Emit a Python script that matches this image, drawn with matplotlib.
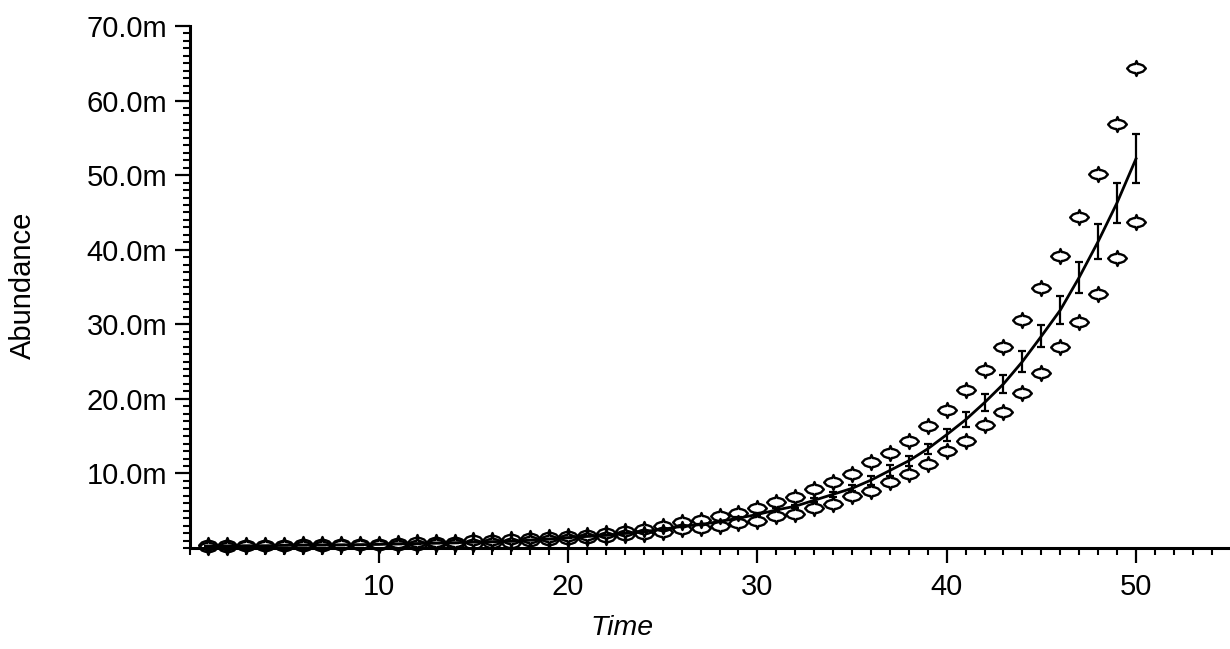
import matplotlib
matplotlib.use('Agg')
import matplotlib.pyplot as plt
from matplotlib.path import Path
from matplotlib.ticker import MultipleLocator, FixedLocator, FuncFormatter

# ---- data (values in "m" units) ----
time = list(range(1, 51))
upper = [0.35, 0.35, 0.45, 0.35, 0.45, 0.50, 0.50, 0.50, 0.55, 0.60,
         0.70, 0.75, 0.80, 0.85, 1.05, 1.10, 1.15, 1.30, 1.45, 1.65,
         1.80, 2.00, 2.30, 2.60, 3.00, 3.45, 3.70, 4.30, 4.70, 5.30,
         6.20, 6.90, 7.90, 8.90, 9.90, 11.5, 12.8, 14.4, 16.4, 18.5,
         21.2, 23.9, 27.0, 30.6, 34.8, 39.2, 44.4, 50.2, 56.9, 64.4]
lower = [0.20, 0.20, 0.25, 0.25, 0.30, 0.30, 0.30, 0.35, 0.35, 0.35,
         0.40, 0.45, 0.50, 0.55, 0.60, 0.65, 0.70, 0.90, 1.05, 1.20,
         1.35, 1.45, 1.70, 1.90, 2.20, 2.50, 2.70, 3.00, 3.35, 3.65,
         4.30, 4.55, 5.30, 5.90, 7.00, 7.60, 8.90, 9.90, 11.2, 13.0,
         14.4, 16.5, 18.2, 20.8, 23.5, 26.9, 30.3, 34.1, 38.9, 43.7]
mean = [0.25, 0.27, 0.30, 0.30, 0.35, 0.38, 0.40, 0.42, 0.45, 0.48,
        0.55, 0.60, 0.65, 0.70, 0.80, 0.85, 0.90, 1.05, 1.20, 1.40,
        1.55, 1.70, 1.95, 2.20, 2.50, 2.90, 3.15, 3.55, 4.00, 4.50,
        5.10, 5.60, 6.40, 7.20, 8.00, 9.10, 10.4, 11.7, 13.3, 15.2,
        17.2, 19.5, 22.0, 25.0, 28.4, 31.9, 36.3, 41.1, 46.3, 52.2]
err = [0.0, 0.0, 0.0, 0.0, 0.0, 0.0, 0.0, 0.0, 0.0, 0.0,
       0.0, 0.0, 0.0, 0.0, 0.0, 0.0, 0.0, 0.0, 0.0, 0.0,
       0.0, 0.0, 0.0, 0.0, 0.1, 0.1, 0.1, 0.1, 0.15, 0.15,
       0.2, 0.2, 0.25, 0.3, 0.4, 0.6, 0.7, 0.7, 0.7, 0.8,
       1.0, 1.1, 1.2, 1.4, 1.5, 1.9, 2.1, 2.4, 2.7, 3.3]

y_ticks = [10, 20, 30, 40, 50, 60, 70]
x_ticks = [10, 20, 30, 40, 50]

plt.rcParams['font.family'] = ['Liberation Sans', 'DejaVu Sans']

W, H = 1230, 649
fig = plt.figure(figsize=(W / 100, H / 100), dpi=100)
px0, px1, py0, py1 = 189.5, 1230, 548, 26
ax = fig.add_axes([px0 / W, (H - py0) / H, (px1 - px0) / W, (py0 - py1) / H])
ax.set_xlim(0, (px1 - px0) / 18.93)
ax.set_ylim(0, 70)

# custom open 4-point marker
verts = [(-1, 0), (-0.7, 0.32), (-0.35, 0.45), (-0.13, 0.48), (0, 0.80),
         (0.13, 0.48), (0.35, 0.45), (0.7, 0.32), (1, 0),
         (0.7, -0.32), (0.35, -0.45), (0.13, -0.48), (0, -0.80),
         (-0.13, -0.48), (-0.35, -0.45), (-0.7, -0.32), (-1, 0)]
codes = [Path.MOVETO] + [Path.LINETO] * (len(verts) - 2) + [Path.CLOSEPOLY]
mk = Path(verts, codes)

ax.errorbar(time, mean, yerr=err, color='black', lw=2.0, elinewidth=1.6,
            capsize=3, capthick=1.6, zorder=3, clip_on=False)
for series in (upper, lower):
    ax.plot(time, series, linestyle='none', marker=mk, markersize=13.5,
            markerfacecolor='none', markeredgecolor='black',
            markeredgewidth=1.7, zorder=4, clip_on=False)

for s in ('top', 'right'):
    ax.spines[s].set_visible(False)
for s in ('left', 'bottom'):
    ax.spines[s].set_linewidth(2.2)

ax.xaxis.set_major_locator(FixedLocator(x_ticks))
ax.xaxis.set_minor_locator(MultipleLocator(1))
ax.yaxis.set_major_locator(FixedLocator(y_ticks))
ax.yaxis.set_minor_locator(MultipleLocator(1))
ax.yaxis.set_major_formatter(FuncFormatter(lambda v, p: f"{v:.1f}m"))
ax.xaxis.set_major_formatter(FuncFormatter(lambda v, p: f"{v:.0f}"))

ax.tick_params(axis='both', which='major', length=11, width=1.6,
               direction='out', labelsize=21)
ax.tick_params(axis='both', which='minor', length=5, width=1.5,
               direction='out')
ax.tick_params(axis='x', which='major', pad=7)
ax.tick_params(axis='y', which='major', pad=5)

fig.text(622 / W, 1 - 628 / H, 'Time', fontsize=20.5, style='italic',
         ha='center', va='center')
fig.text(23 / W, 1 - 285 / H, 'Abundance', fontsize=21, rotation=90,
         ha='center', va='center')

fig.savefig('out.png', dpi=100, facecolor='white')
